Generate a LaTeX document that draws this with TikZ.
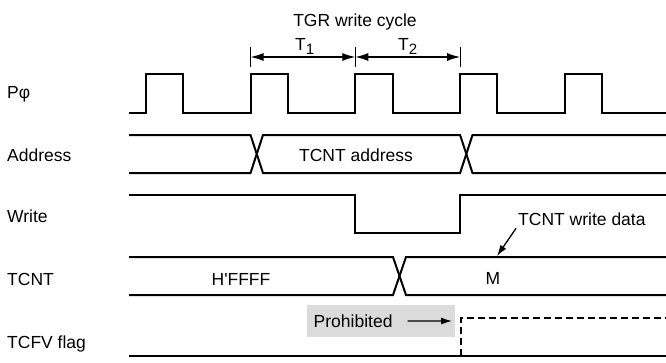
\documentclass[tikz,border=0pt]{standalone}
\usepackage{fontspec}
\setmainfont{Liberation Sans}[Ligatures=TeXOff]
\usepackage{tikz}
\usetikzlibrary{arrows.meta}
\tikzstyle{wave} = [draw, line width=2pt]
\newcommand{\tsub}[1]{\raisebox{-4.5pt}{\fontsize{15}{15}\selectfont #1}}

\begin{document}
\begin{tikzpicture}[x=1pt, y=-1pt, font=\fontsize{17.5}{21}\selectfont, lbl/.style={inner sep=0pt, anchor=base west}, txt/.style={inner sep=0pt, anchor=base}, dim/.style={draw, line width=1.2pt, {Latex[length=13pt,width=8pt]}-{Latex[length=13pt,width=8pt]}}, ptr/.style={draw, line width=1.3pt, -{Latex[length=11pt,width=7pt]}}]

    \useasboundingbox (0,0) rectangle (666,362);

    \tikzset{tick/.style={draw, line width=1pt}, prohib/.style={fill=black!14, inner sep=0pt, anchor=north west, minimum width=148pt, minimum height=32pt}}

    % signal names
    \node[lbl] (pphi) at (7,98.5) {Pφ};
    \node[lbl] (addr) at (7,161) {Address};
    \node[lbl] (wr) at (7,222) {Write};
    \node[lbl] (tcnt) at (7,285) {TCNT};
    \node[lbl] (tcfv) at (7,348) {TCFV flag};

    % write cycle
    \foreach \n/\x in {ca/250.5, cb/355.3, cc/460.1} {
        \coordinate (\n) at (\x,57);
        \draw[tick] (\x,47) -- (\x,67);
    }
    \draw[dim] (ca) -- (cb);
    \draw[dim] (cb) -- (cc);
    \node[txt] (cyc) at (355,26.5) {TGR write cycle};
    \node[lbl] (t1) at (295,50) {T\tsub{1}};
    \node[lbl] (t2) at (398,50) {T\tsub{2}};

    % waveforms
    \draw[wave] (129,113) \foreach \i in {0,...,4} {-- ({145.7+104.8*\i},113) -- ++(0,-38.7) -- ++(37.3,0) -- ++(0,38.7)} -- (666,113);

    \draw[wave] (129,135) -- (250.5,135) -- (263,173) -- (460.1,173) -- (472.5,135) -- (666,135);
    \draw[wave] (129,173) -- (250.5,173) -- (263,135) -- (460.1,135) -- (472.5,173) -- (666,173);
    \node[txt] (taddr) at (356,161) {TCNT address};

    \draw[wave] (129,195) -| (355.3,233) -| (460.1,195) -- (666,195);

    \draw[wave] (129,257) -- (393,257) -- (406,295) -- (666,295);
    \draw[wave] (129,295) -- (393,295) -- (406,257) -- (666,257);
    \node[txt] (ffff) at (241,285) {H'FFFF};
    \node[txt] (mval) at (493,284.5) {M};

    \draw[wave] (129,356) -- (666,356);
    \draw[wave, dash pattern=on 7pt off 4pt] (460.5,356) -- (460.5,318) -- (666,318);

    % annotations
    \node[lbl] (wdat) at (518,225) {TCNT write data};
    \coordinate (wtip) at (497,256);
    \draw[ptr] ([shift={(-2pt,-3pt)}]wdat.south west) -- (wtip);

    \node[prohib] (pbox) at (307,305) {};
    \node[lbl] (proh) at (313.5,327.3) {Prohibited};
    \coordinate (pend) at (452,321);
    \draw[ptr] ([xshift=15pt]proh.east) -- (pend);

\end{tikzpicture}
\end{document}
